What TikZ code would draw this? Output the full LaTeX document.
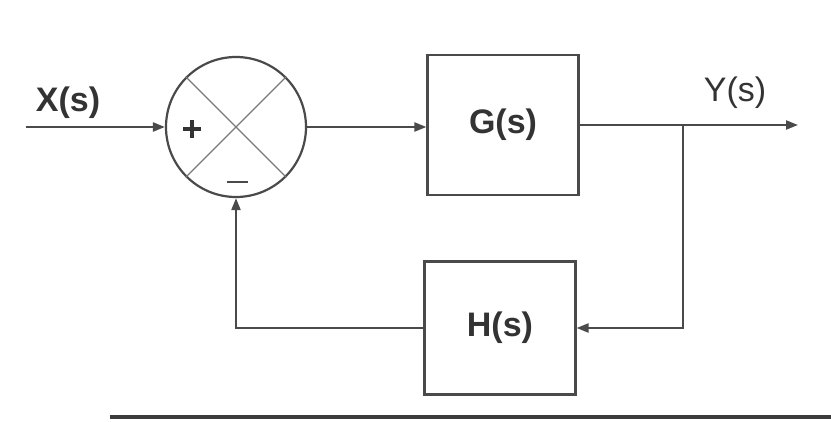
\documentclass[tikz,border=0pt]{standalone}
\usepackage{fontspec}
\setmainfont{Liberation Sans}
\usetikzlibrary{arrows.meta}
\definecolor{ln}{HTML}{4A4A4A}
\definecolor{tx}{HTML}{333333}
\definecolor{cr}{HTML}{7A7A7A}
\begin{document}
\begin{tikzpicture}[x=1pt,y=-1pt,
  conn/.style={draw=ln,line width=2.2pt},
  arr/.style={conn,-{Triangle[length=12pt,width=9pt]}},
  blockbox/.style={draw=ln,line width=2.2pt,minimum width=151pt,inner sep=0pt,
     font=\fontsize{34}{38}\selectfont\bfseries,text=tx},
  lbl/.style={font=\fontsize{34}{38}\selectfont,text=tx,inner sep=0pt}]
\useasboundingbox (0,0) rectangle (831,422);
% summing junction
\node[circle,draw=ln,line width=2.2pt,minimum size=140pt,inner sep=0pt] (sum) at (236,127) {};
\draw[cr,line width=1.4pt] (sum.45) -- (sum.225) (sum.135) -- (sum.315);
\node[inner sep=0pt,minimum size=17pt] (plus) at (192,129) {};
\draw[tx,line width=3.8pt] (plus.west) -- (plus.east) (plus.north) -- (plus.south);
\node[lbl] (minus) at (237,182) {\color{ln}\rule{21pt}{1.8pt}};
% blocks
\node[blockbox,minimum height=140pt] (G) at (503,125) {G(s)};
\node[blockbox,minimum height=133pt] (H) at (500,328) {H(s)};
% labels
\node[lbl,font=\fontsize{34}{38}\selectfont\bfseries] (xl) at (68,103) {X(s)};
\node[lbl] (yl) at (735,93) {Y(s)};
% coordinates
\coordinate (in) at (26,127);
\coordinate (br) at (683,0 |- G.east);
\coordinate (out) at (798,0 |- G.east);
\coordinate (brd) at (br |- H.east);
\coordinate (fbl) at (sum.south |- H.west);
% connectors
\draw[arr] (in) -- (sum.west);
\draw[arr] (sum.east) -- (sum.east -| G.west);
\draw[arr] (G.east) -- (out);
\draw[arr] (br) -- (brd) -- (H.east);
\draw[arr] (H.west) -- (fbl) -- (sum.south);
% bottom edge line
\draw[line width=3.5pt,draw=ln!80!black] (110,417) -- (831,417);
\end{tikzpicture}
\end{document}
